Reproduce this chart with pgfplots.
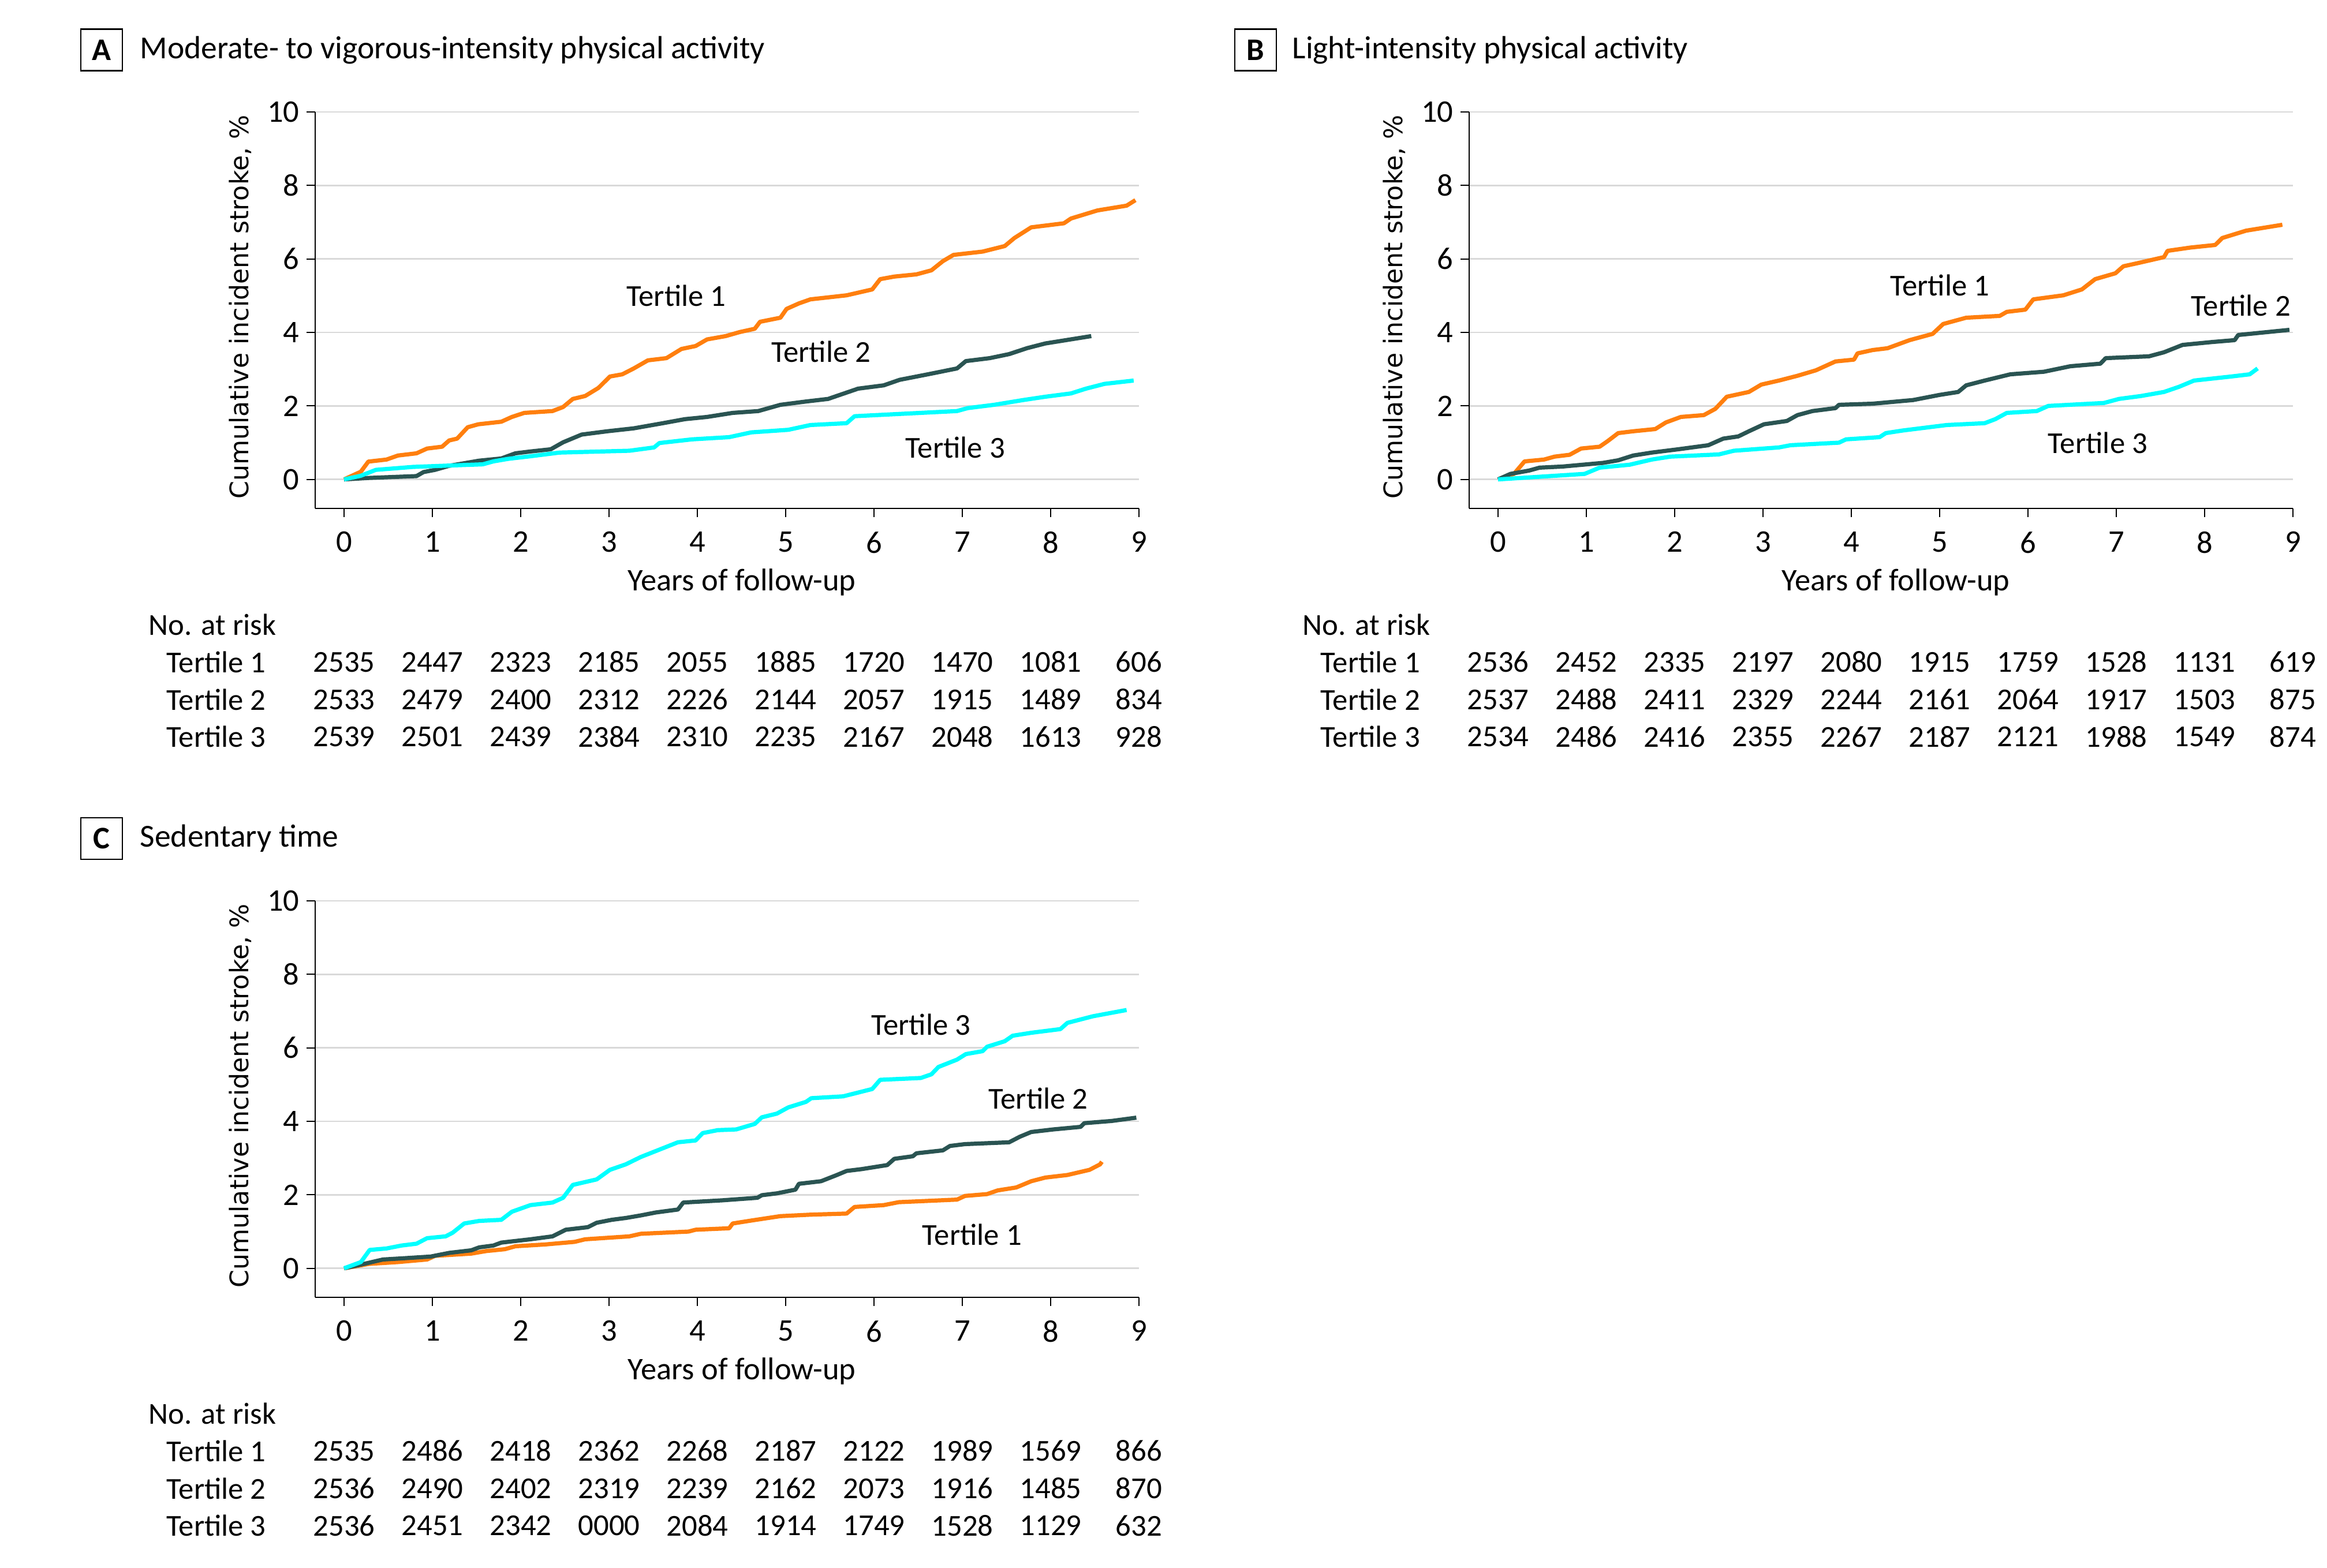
\documentclass[border=0pt]{standalone}
\usepackage{fontspec}
\setmainfont{Carlito}
\newfontfamily\ylabfont{DejaVu Sans}
\usepackage{pgfplots}
\pgfplotsset{compat=1.18}

\definecolor{tOrange}{RGB}{255,127,14}
\definecolor{tDark}{RGB}{42,84,82}
\definecolor{tCyan}{RGB}{0,255,255}
\definecolor{gridgray}{RGB}{217,217,217}

\newcommand\txt{\fontsize{15}{18}\selectfont}

\tikzset{riskfont/.style={font=\txt, inner sep=0pt}}

\pgfplotsset{
  kmstyle/.style={
    scale only axis, width=142.7mm, height=68.7mm,
    xmin=-0.327, xmax=9, ymin=-0.79, ymax=10,
    axis x line*=bottom, axis y line*=left,
    axis line style={line width=0.2mm, black},
    xtick={0,...,9}, ytick={0,2,...,10},
    tick align=outside, major tick length=1.5mm,
    tick style={line width=0.2mm, black},
    ymajorgrids, grid style={line width=0.27mm, color=gridgray},
    tick label style={font=\fontsize{15.5}{18}\selectfont},
    xticklabel style={yshift=-1.3mm},
    /pgf/number format/assume math mode=true,
    xlabel={Years of follow-up},
    xlabel style={at={(axis description cs:0.518,-0.186)}, anchor=center, font=\fontsize{15.5}{18}\selectfont},
    ylabel={Cumulative incident stroke, \%},
    ylabel style={at={(axis description cs:-0.091,0.508)}, anchor=center, font=\ylabfont\fontsize{12.6}{15}\selectfont},
    clip=false,
    every axis plot/.append style={line width=0.72mm, line join=round, mark=none},
  },
}

\newcommand\riskrow[3]{%
  \node[riskfont, anchor=west] at (axis cs:-2.013,#1) {#2};
  \foreach \v [count=\i from 0] in {#3}{%
    \edef\tmp{\noexpand\node[riskfont, anchor=center] at (axis cs:\i,#1) {\v};}\tmp
  }%
}
\newcommand\riskhead{\node[riskfont, anchor=west] at (axis cs:-2.216,-3.95) {No. at risk};}

\begin{document}
\begin{tikzpicture}
\useasboundingbox (0,0) rectangle (403.1mm,-271.7mm);

% ---------- Panel titles ----------
\node[draw, line width=0.25mm, minimum size=7.2mm, inner sep=0pt, font=\fontsize{15.5}{18}\selectfont\bfseries] at (17.6mm,-8.65mm) {A};
\node[anchor=west, inner sep=0pt, font=\fontsize{15.8}{19}\selectfont] at (24.2mm,-8.7mm) {Moderate- to vigorous-intensity physical activity};
\node[draw, line width=0.25mm, minimum size=7.2mm, inner sep=0pt, font=\fontsize{15.5}{18}\selectfont\bfseries] at (217.5mm,-8.65mm) {B};
\node[anchor=west, inner sep=0pt, font=\fontsize{15.8}{19}\selectfont] at (223.8mm,-8.7mm) {Light-intensity physical activity};
\node[draw, line width=0.25mm, minimum size=7.2mm, inner sep=0pt, font=\fontsize{15.5}{18}\selectfont\bfseries] at (17.6mm,-145.3mm) {C};
\node[anchor=west, inner sep=0pt, font=\fontsize{15.8}{19}\selectfont] at (24.2mm,-145.3mm) {Sedentary time};

% ---------- Panel A ----------
\begin{axis}[kmstyle, at={(54.6mm,-88.1mm)}, anchor=south west]
\addplot[tOrange] coordinates {
(0,0) (0.19,0.21) (0.275,0.485) (0.48,0.54) (0.61,0.65) (0.82,0.71) (0.94,0.84) (1.11,0.89) (1.19,1.06) (1.28,1.11)
(1.40,1.42) (1.52,1.50) (1.78,1.57) (1.90,1.70) (2.04,1.81) (2.36,1.86) (2.48,1.97) (2.59,2.19) (2.73,2.27) (2.88,2.49)
(3.01,2.80) (3.15,2.86) (3.28,3.02) (3.44,3.24) (3.65,3.30) (3.82,3.55) (3.98,3.63) (4.11,3.81) (4.32,3.90) (4.48,4.01)
(4.65,4.10) (4.71,4.29) (4.94,4.40) (5.01,4.64) (5.15,4.79) (5.28,4.90) (5.69,5.01) (5.98,5.17) (6.07,5.45) (6.23,5.52)
(6.48,5.58) (6.65,5.69) (6.78,5.94) (6.90,6.11) (7.23,6.20) (7.48,6.35) (7.59,6.57) (7.78,6.86) (8.15,6.97) (8.23,7.10)
(8.53,7.32) (8.86,7.45) (8.96,7.60)};
\addplot[tDark] coordinates {
(0,0) (0.28,0.04) (0.82,0.09) (0.90,0.20) (1.03,0.26) (1.19,0.37) (1.53,0.51) (1.78,0.57) (1.94,0.71) (2.11,0.76)
(2.34,0.82) (2.48,1.01) (2.69,1.22) (2.98,1.31) (3.28,1.39) (3.61,1.53) (3.86,1.64) (4.11,1.70) (4.40,1.81) (4.69,1.86)
(4.94,2.03) (5.23,2.12) (5.48,2.19) (5.82,2.47) (6.11,2.56) (6.29,2.71) (6.61,2.86) (6.94,3.02) (7.04,3.22) (7.31,3.30)
(7.53,3.41) (7.73,3.57) (7.94,3.70) (8.46,3.90)};
\addplot[tCyan] coordinates {
(0,0) (0.19,0.10) (0.36,0.26) (0.78,0.34) (1.11,0.37) (1.57,0.41) (1.69,0.49) (1.86,0.56) (2.11,0.63) (2.44,0.73)
(3.23,0.78) (3.51,0.87) (3.57,0.99) (3.94,1.09) (4.36,1.15) (4.61,1.28) (5.03,1.35) (5.28,1.48) (5.69,1.53) (5.78,1.72)
(6.36,1.79) (6.94,1.86) (7.06,1.94) (7.36,2.03) (7.69,2.16) (7.94,2.25) (8.23,2.34) (8.40,2.47) (8.61,2.60) (8.94,2.69)};
\node[font=\txt] at (axis cs:3.76,5.0) {Tertile 1};
\node[font=\txt] at (axis cs:5.40,3.48) {Tertile 2};
\node[font=\txt] at (axis cs:6.92,0.87) {Tertile 3};
\riskhead
\riskrow{-4.97}{Tertile 1}{2535,2447,2323,2185,2055,1885,1720,1470,1081,606}
\riskrow{-5.99}{Tertile 2}{2533,2479,2400,2312,2226,2144,2057,1915,1489,834}
\riskrow{-7.00}{Tertile 3}{2539,2501,2439,2384,2310,2235,2167,2048,1613,928}
\end{axis}

% ---------- Panel B ----------
\begin{axis}[kmstyle, at={(254.5mm,-88.1mm)}, anchor=south west]
\addplot[tOrange] coordinates {
(0,0) (0.18,0.15) (0.30,0.49) (0.52,0.54) (0.64,0.62) (0.81,0.67) (0.94,0.84) (1.15,0.89) (1.24,1.04) (1.36,1.26)
(1.53,1.31) (1.78,1.37) (1.90,1.55) (2.07,1.70) (2.33,1.75) (2.46,1.92) (2.59,2.25) (2.84,2.38) (2.98,2.58) (3.18,2.69)
(3.39,2.82) (3.60,2.97) (3.82,3.21) (4.03,3.26) (4.07,3.43) (4.24,3.52) (4.41,3.57) (4.66,3.79) (4.92,3.96) (5.04,4.23)
(5.30,4.40) (5.68,4.45) (5.76,4.56) (5.97,4.62) (6.06,4.90) (6.40,5.01) (6.61,5.17) (6.76,5.45) (6.99,5.61) (7.08,5.80)
(7.25,5.89) (7.54,6.05) (7.58,6.22) (7.84,6.31) (8.12,6.38) (8.20,6.57) (8.47,6.77) (8.88,6.93)};
\addplot[tDark] coordinates {
(0,0) (0.14,0.15) (0.35,0.24) (0.47,0.32) (0.73,0.35) (1.19,0.45) (1.36,0.52) (1.53,0.65) (1.74,0.73) (2.04,0.82)
(2.38,0.93) (2.55,1.11) (2.72,1.17) (2.84,1.31) (3.01,1.50) (3.27,1.59) (3.39,1.75) (3.56,1.86) (3.82,1.94) (3.86,2.03)
(4.24,2.06) (4.70,2.16) (5.00,2.30) (5.21,2.38) (5.30,2.56) (5.51,2.69) (5.80,2.86) (6.18,2.93) (6.48,3.08) (6.82,3.15)
(6.88,3.30) (7.37,3.35) (7.54,3.46) (7.75,3.66) (8.09,3.74) (8.34,3.79) (8.38,3.93) (8.96,4.07)};
\addplot[tCyan] coordinates {
(0,0) (0.52,0.08) (0.98,0.15) (1.15,0.32) (1.49,0.40) (1.74,0.54) (1.95,0.62) (2.50,0.68) (2.67,0.78) (3.18,0.87)
(3.31,0.93) (3.86,1.00) (3.94,1.09) (4.32,1.15) (4.39,1.26) (4.58,1.33) (5.08,1.48) (5.51,1.53) (5.63,1.64) (5.76,1.81)
(6.10,1.86) (6.23,2.00) (6.86,2.08) (7.03,2.19) (7.28,2.27) (7.54,2.38) (7.71,2.52) (7.88,2.69) (8.30,2.80) (8.51,2.86)
(8.60,3.02)};
\node[font=\txt] at (axis cs:5.00,5.28) {Tertile 1};
\node[font=\txt] at (axis cs:8.41,4.73) {Tertile 2};
\node[font=\txt] at (axis cs:6.79,1.00) {Tertile 3};
\riskhead
\riskrow{-4.97}{Tertile 1}{2536,2452,2335,2197,2080,1915,1759,1528,1131,619}
\riskrow{-5.99}{Tertile 2}{2537,2488,2411,2329,2244,2161,2064,1917,1503,875}
\riskrow{-7.00}{Tertile 3}{2534,2486,2416,2355,2267,2187,2121,1988,1549,874}
\end{axis}

% ---------- Panel C ----------
\begin{axis}[kmstyle, at={(54.6mm,-224.8mm)}, anchor=south west]
\addplot[tOrange] coordinates {
(0,0) (0.28,0.12) (0.61,0.17) (0.94,0.24) (1.03,0.34) (1.44,0.40) (1.61,0.47) (1.82,0.52) (1.94,0.60) (2.28,0.65)
(2.61,0.72) (2.73,0.79) (3.23,0.87) (3.36,0.94) (3.90,1.00) (3.98,1.05) (4.36,1.09) (4.40,1.22) (4.61,1.30) (4.94,1.42)
(5.28,1.46) (5.69,1.49) (5.78,1.67) (6.11,1.72) (6.28,1.80) (6.94,1.87) (7.03,1.97) (7.28,2.02) (7.40,2.12) (7.61,2.20)
(7.78,2.37) (7.94,2.47) (8.19,2.54) (8.44,2.68) (8.56,2.83) (8.58,2.90)};
\addplot[tDark] coordinates {
(0,0) (0.19,0.10) (0.44,0.24) (0.65,0.27) (0.98,0.32) (1.19,0.42) (1.44,0.49) (1.53,0.57) (1.69,0.62) (1.78,0.70)
(2.11,0.79) (2.36,0.87) (2.51,1.05) (2.76,1.12) (2.86,1.24) (3.03,1.32) (3.19,1.37) (3.36,1.44) (3.53,1.52) (3.78,1.60)
(3.84,1.79) (4.28,1.85) (4.68,1.92) (4.73,1.99) (4.90,2.04) (5.11,2.14) (5.15,2.30) (5.40,2.37) (5.57,2.53) (5.69,2.65)
(5.86,2.70) (6.15,2.81) (6.23,2.98) (6.44,3.05) (6.48,3.13) (6.78,3.21) (6.86,3.33) (7.03,3.38) (7.53,3.43) (7.65,3.58)
(7.78,3.71) (8.03,3.78) (8.34,3.85) (8.38,3.95) (8.69,4.01) (8.97,4.10)};
\addplot[tCyan] coordinates {
(0,0) (0.19,0.17) (0.29,0.50) (0.48,0.54) (0.65,0.62) (0.82,0.67) (0.94,0.82) (1.15,0.87) (1.23,0.97) (1.36,1.22)
(1.53,1.29) (1.78,1.32) (1.90,1.54) (2.11,1.72) (2.36,1.79) (2.48,1.92) (2.59,2.27) (2.86,2.42) (3.01,2.68) (3.19,2.83)
(3.36,3.03) (3.57,3.23) (3.78,3.43) (3.98,3.48) (4.06,3.68) (4.23,3.76) (4.44,3.78) (4.65,3.93) (4.73,4.11) (4.90,4.21)
(5.03,4.38) (5.23,4.53) (5.29,4.63) (5.65,4.68) (5.98,4.88) (6.07,5.13) (6.53,5.18) (6.65,5.28) (6.73,5.48) (6.94,5.68)
(7.04,5.83) (7.23,5.91) (7.28,6.03) (7.48,6.18) (7.57,6.33) (7.78,6.41) (8.11,6.51) (8.19,6.68) (8.48,6.86) (8.86,7.03)};
\node[font=\txt] at (axis cs:6.53,6.63) {Tertile 3};
\node[font=\txt] at (axis cs:7.86,4.63) {Tertile 2};
\node[font=\txt] at (axis cs:7.11,0.92) {Tertile 1};
\riskhead
\riskrow{-4.97}{Tertile 1}{2535,2486,2418,2362,2268,2187,2122,1989,1569,866}
\riskrow{-5.99}{Tertile 2}{2536,2490,2402,2319,2239,2162,2073,1916,1485,870}
\riskrow{-7.00}{Tertile 3}{2536,2451,2342,0000,2084,1914,1749,1528,1129,632}
\end{axis}
\end{tikzpicture}
\end{document}
